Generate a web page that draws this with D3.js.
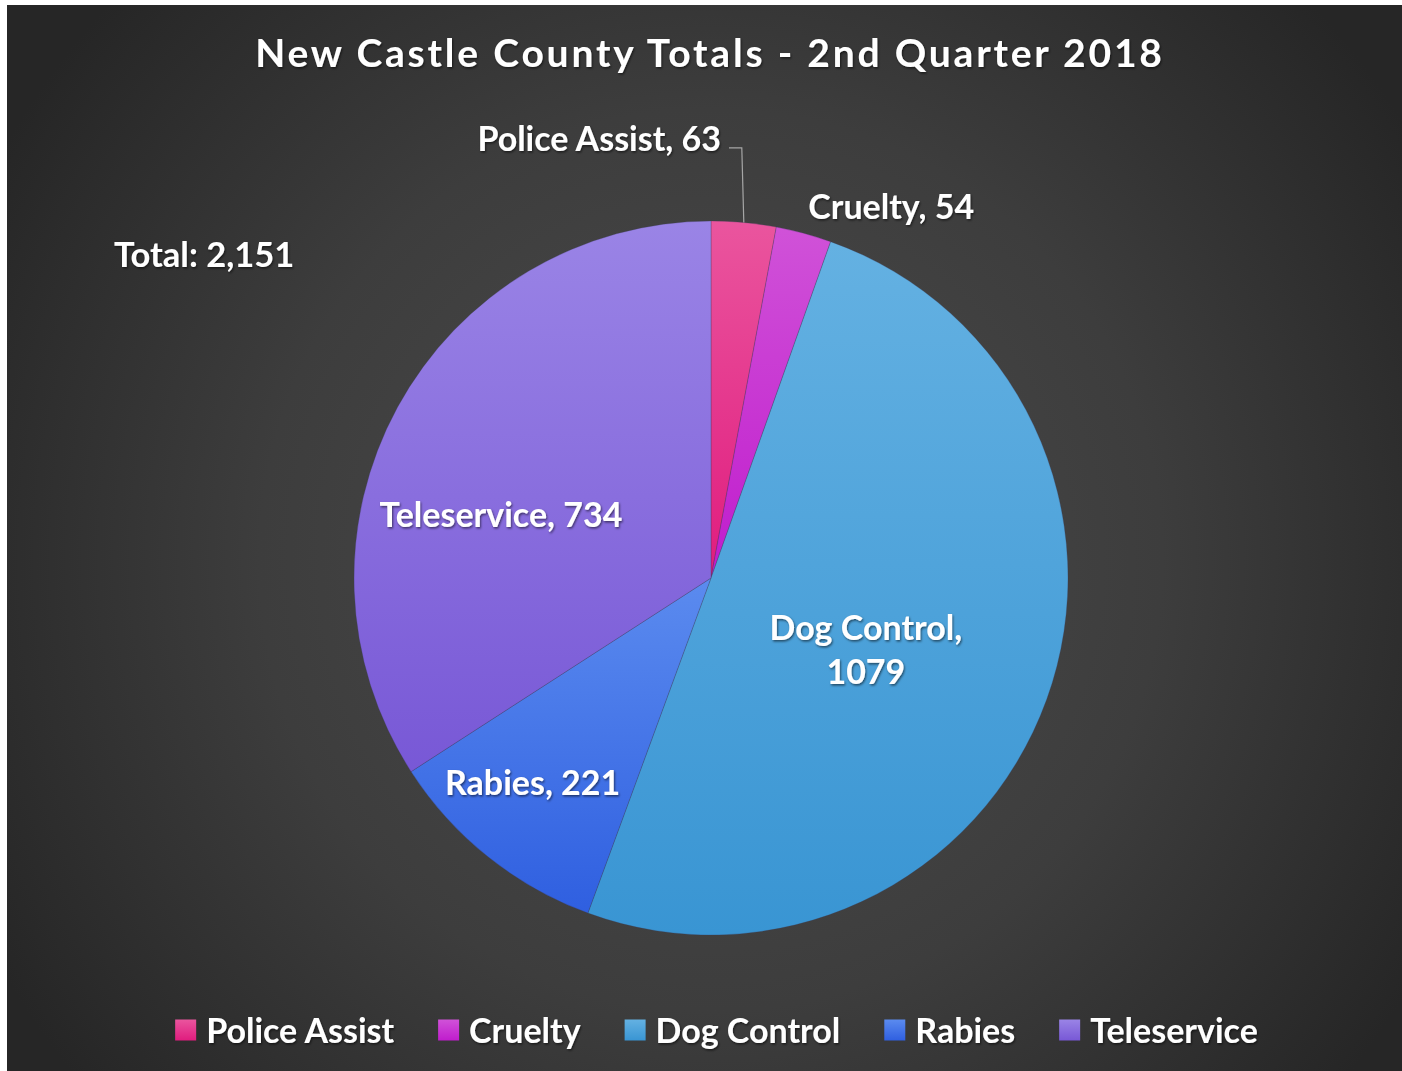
<!DOCTYPE html>
<html><head><meta charset="utf-8">
<script src="https://cdn.jsdelivr.net/npm/d3@7"></script>
<style>
body{margin:0;background:#fff;}
svg{display:block;}
text{font-family:Lato,"Open Sans",sans-serif;font-weight:700;fill:#fff;}
</style>
</head><body>
<svg id="chart" width="1402" height="1071"></svg>
<script>
// ---- data ----
const title = "New Castle County Totals - 2nd Quarter 2018";
const categories = ["Police Assist", "Cruelty", "Dog Control", "Rabies", "Teleservice"];
const values = [63, 54, 1079, 221, 734];
const totalLabel = "Total: 2,151";
const dataLabels = ["Police Assist, 63", "Cruelty, 54", "Dog Control,|1079", "Rabies, 221", "Teleservice, 734"];

// ---- style ----
const colorTop = ["#ea559e", "#d052d8", "#64b1e2", "#5b8bef", "#9a84e6"];
const colorBottom = ["#e01c7e", "#c01ccd", "#3995d3", "#2f5fe0", "#7858d6"];
// label placement: polar angle (deg, clockwise from 12 o'clock), radius factor, anchor
const labelPlace = [
  {ang: 1.3, rf: 1.236, anchor: "end", leader: true},
  {ang: 25.8, rf: 1.16, anchor: "middle", leader: false},
  {ang: 114.3, rf: 0.476, anchor: "middle", leader: false},
  {ang: 221.3, rf: 0.757, anchor: "middle", leader: false},
  {ang: 287.2, rf: 0.616, anchor: "middle", leader: false}
];

const W = 1402, H = 1071;
const cx = 711, cy = 578, R = 357;
const svg = d3.select("#chart");
const defs = svg.append("defs");

// background
const bg = defs.append("radialGradient").attr("id", "bg")
  .attr("gradientUnits", "userSpaceOnUse")
  .attr("cx", 711).attr("cy", 560).attr("r", 820);
bg.append("stop").attr("offset", "0%").attr("stop-color", "#4c4c4c");
bg.append("stop").attr("offset", "55%").attr("stop-color", "#3d3d3d");
bg.append("stop").attr("offset", "100%").attr("stop-color", "#262626");
svg.append("rect").attr("x", 7).attr("y", 5).attr("width", W - 7).attr("height", H - 5)
  .attr("fill", "url(#bg)");

// shadow filter
const f = defs.append("filter").attr("id", "ts").attr("x", "-10%").attr("y", "-30%")
  .attr("width", "120%").attr("height", "160%");
f.append("feDropShadow").attr("dx", 1).attr("dy", 1.5).attr("stdDeviation", 1.2)
  .attr("flood-color", "#000").attr("flood-opacity", 0.55);

// gradients per category
categories.forEach((c, i) => {
  const g = defs.append("linearGradient").attr("id", "g" + i)
    .attr("x1", 0).attr("y1", 0).attr("x2", 0).attr("y2", 1);
  g.append("stop").attr("offset", "0%").attr("stop-color", colorTop[i]);
  g.append("stop").attr("offset", "100%").attr("stop-color", colorBottom[i]);
});

// title
svg.append("text").attr("x", 710).attr("y", 52)
  .attr("text-anchor", "middle").attr("dominant-baseline", "central")
  .style("font-size", "39px").style("letter-spacing", "2.8px")
  .attr("filter", "url(#ts)").text(title);

// pie
const pie = d3.pie().sort(null).value(d => d).startAngle(0).endAngle(2 * Math.PI);
const arcs = pie(values);
const arc = d3.arc().innerRadius(0).outerRadius(R);
const g = svg.append("g").attr("transform", `translate(${cx},${cy})`);
g.selectAll("path.slice").data(arcs).enter().append("path")
  .attr("class", "slice")
  .attr("d", arc)
  .attr("fill", (d, i) => `url(#g${i})`)
  .attr("stroke", "rgba(60,60,90,0.35)").attr("stroke-width", 0.8);

// labels
const polar = (angDeg, r) => {
  const a = angDeg * Math.PI / 180;
  return [r * Math.sin(a), -r * Math.cos(a)];
};
arcs.forEach((d, i) => {
  const p = labelPlace[i];
  const [x, y] = polar(p.ang, p.rf * R);
  const lines = dataLabels[i].split("|");
  const t = g.append("text").attr("text-anchor", p.anchor)
    .attr("dominant-baseline", "central")
    .style("font-size", "34px").attr("filter", "url(#ts)");
  const lh = 44;
  lines.forEach((ln, k) => {
    t.append("tspan").attr("x", x).attr("y", y + (k - (lines.length - 1) / 2) * lh).text(ln);
  });
  if (p.leader) {
    const mid = (d.startAngle + d.endAngle) / 2;
    const ox = R * Math.sin(mid), oy = -R * Math.cos(mid);
    const ly = y + 11;
    g.append("path")
      .attr("d", `M${x + 8},${ly}L${ox - 2},${ly}L${ox},${oy}`)
      .attr("fill", "none").attr("stroke", "#a6a6a6").attr("stroke-width", 1.2);
  }
});

// total label
svg.append("text").attr("x", 114).attr("y", 253).attr("dominant-baseline", "central")
  .style("font-size", "34.5px").attr("filter", "url(#ts)").text(totalLabel);

// legend
const legend = svg.append("g");
const sq = 21, gapT = 10, gapItem = 44, legY = 1030;
const items = categories.map((c, i) => {
  const it = legend.append("g");
  it.append("rect").attr("width", sq).attr("height", sq).attr("y", -sq / 2)
    .attr("fill", `url(#g${i})`);
  const tx = it.append("text").attr("x", sq + gapT).attr("y", -1).attr("dominant-baseline", "central")
    .style("font-size", "34px").attr("filter", "url(#ts)").text(c);
  return {it, w: sq + gapT + tx.node().getComputedTextLength()};
});
const totalW = d3.sum(items, d => d.w) + gapItem * (items.length - 1);
let lx = 716.5 - totalW / 2;
items.forEach(d => {
  d.it.attr("transform", `translate(${lx},${legY})`);
  lx += d.w + gapItem;
});
</script>
</body></html>
